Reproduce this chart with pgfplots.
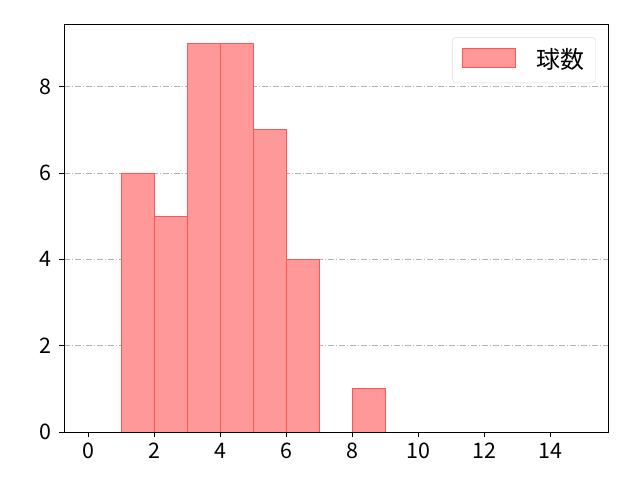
\documentclass[border=0pt]{standalone}
\usepackage{fontspec}
\setmainfont{Noto Sans CJK JP}
\usepackage{pgfplots}
\pgfplotsset{compat=1.18}
\definecolor{barfill}{HTML}{FF9999}
\definecolor{baredge}{HTML}{FF5555}
\begin{document}
\fontsize{21}{24}\selectfont
\begin{tikzpicture}[x=1bp,y=1bp]
\useasboundingbox (-64bp,-48bp) rectangle (576bp,432bp);
\begin{axis}[
  at={(0,0)}, anchor=south west,
  scale only axis, width=544bp, height=408bp,
  xmin=-0.75, xmax=15.75, ymin=0, ymax=9.45,
  xtick={0,2,...,14}, ytick={0,2,4,6,8},
  /pgf/number format/assume math mode=true,
  tick label style={font=\fontsize{21.5}{24}\selectfont},
  xticklabel style={yshift=1bp},
  tick align=outside, major tick length=5bp,
  tick style={black, line width=0.9pt},
  axis line style={black, line width=0.9pt},
  xtick pos=bottom, ytick pos=left,
  ymajorgrids, grid style={gray!60, dash pattern=on 6bp off 2bp on 1bp off 2bp, line width=0.7pt},
  legend style={at={(0.977,0.967)}, anchor=north east, draw=gray!30, rounded corners=3bp,
    font=\fontsize{24}{26}\selectfont, inner xsep=9bp, inner ysep=9bp},
  legend image code/.code={\draw[#1, sharp corners, fill=barfill, draw=baredge] (0bp,-7bp) rectangle (53bp,12bp);},
  legend cell align=left,
]
\addplot[ybar interval, fill=barfill, draw=baredge, line width=0.8pt, fill opacity=1]
  coordinates {(1,6) (2,5) (3,9) (4,9) (5,7) (6,4) (7,0) (8,1) (9,1)};
\addlegendentry{\hspace{19bp}球数\hspace{3bp}}
\end{axis}
\end{tikzpicture}
\end{document}
